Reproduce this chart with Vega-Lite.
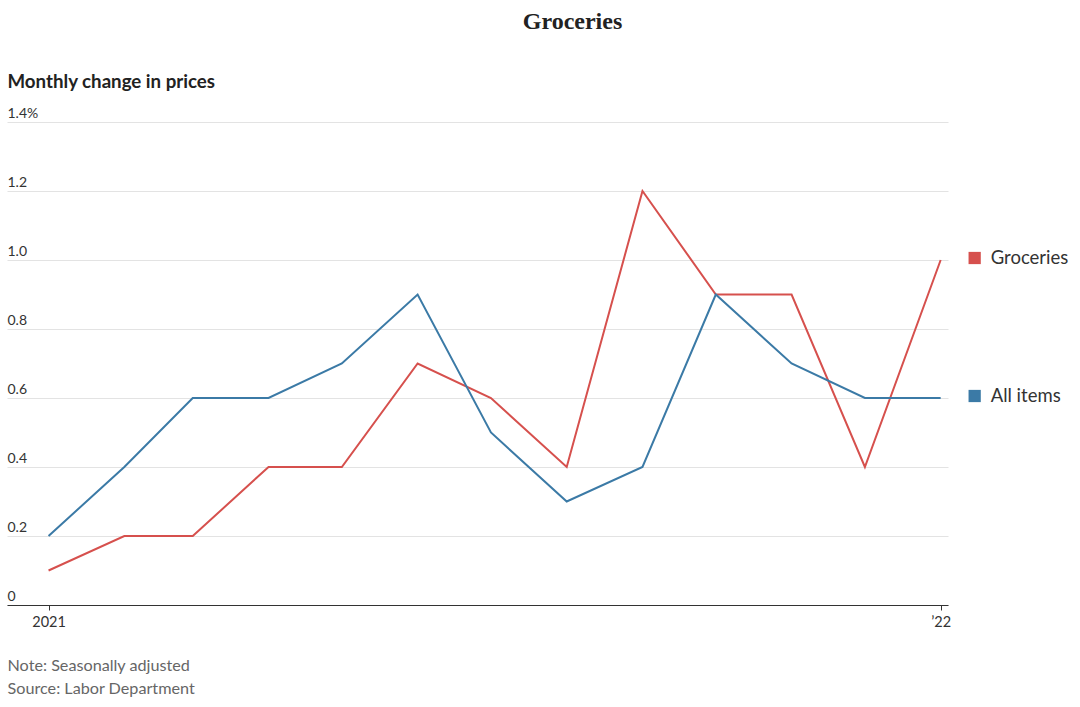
{
  "$schema": "https://vega.github.io/schema/vega-lite/v6.json",
  "autosize": {"type": "none"},
  "width": 941,
  "height": 483,
  "padding": {"left": 7, "top": 122, "right": 132, "bottom": 102},
  "background": "white",
  "title": {"text": "Groceries", "anchor": "middle", "frame": "group", "dx": 95, "offset": 38, "font": "Liberation Serif", "fontSize": 24, "fontWeight": "bold", "color": "#222"},
  "data": {
    "values": [
      {"date": "2021-01-01", "series": "Groceries", "value": 0.1},
      {"date": "2021-02-01", "series": "Groceries", "value": 0.2},
      {"date": "2021-03-01", "series": "Groceries", "value": 0.2},
      {"date": "2021-04-01", "series": "Groceries", "value": 0.4},
      {"date": "2021-05-01", "series": "Groceries", "value": 0.4},
      {"date": "2021-06-01", "series": "Groceries", "value": 0.7},
      {"date": "2021-07-01", "series": "Groceries", "value": 0.6},
      {"date": "2021-08-01", "series": "Groceries", "value": 0.4},
      {"date": "2021-09-01", "series": "Groceries", "value": 1.2},
      {"date": "2021-10-01", "series": "Groceries", "value": 0.9},
      {"date": "2021-11-01", "series": "Groceries", "value": 0.9},
      {"date": "2021-12-01", "series": "Groceries", "value": 0.4},
      {"date": "2022-01-01", "series": "Groceries", "value": 1.0},
      {"date": "2021-01-01", "series": "All items", "value": 0.2},
      {"date": "2021-02-01", "series": "All items", "value": 0.4},
      {"date": "2021-03-01", "series": "All items", "value": 0.6},
      {"date": "2021-04-01", "series": "All items", "value": 0.6},
      {"date": "2021-05-01", "series": "All items", "value": 0.7},
      {"date": "2021-06-01", "series": "All items", "value": 0.9},
      {"date": "2021-07-01", "series": "All items", "value": 0.5},
      {"date": "2021-08-01", "series": "All items", "value": 0.3},
      {"date": "2021-09-01", "series": "All items", "value": 0.4},
      {"date": "2021-10-01", "series": "All items", "value": 0.9},
      {"date": "2021-11-01", "series": "All items", "value": 0.7},
      {"date": "2021-12-01", "series": "All items", "value": 0.6},
      {"date": "2022-01-01", "series": "All items", "value": 0.6}
    ],
    "format": {"parse": {"date": "utc:'%Y-%m-%d'"}}
  },
  "encoding": {
    "x": {
      "field": "date", "type": "temporal",
      "scale": {"type": "utc", "domain": [{"year": 2020, "month": 12, "date": 15, "utc": true}, {"year": 2022, "month": 1, "date": 4, "utc": true}]},
      "axis": {
        "values": [{"year": 2021, "month": 1, "date": 1, "utc": true}, {"year": 2022, "month": 1, "date": 1, "utc": true}],
        "labelExpr": "utcyear(datum.value) == 2021 ? '2021' : '\u201922'",
        "grid": false, "domain": true, "domainColor": "#333", "domainWidth": 1,
        "ticks": true, "tickSize": 5, "tickColor": "#333",
        "labelFont": "Lato", "labelFontSize": 14.5, "labelColor": "#333", "labelPadding": 5,
        "title": ["Note: Seasonally adjusted", "Source: Labor Department"],
        "titleAnchor": "start", "titleAlign": "left", "titleX": 0, "titleY": 65, "titleBaseline": "alphabetic",
        "titleFont": "Lato", "titleFontSize": 16.2, "titleFontWeight": "normal", "titleColor": "#666", "titleLineHeight": 23
      }
    },
    "y": {
      "field": "value", "type": "quantitative",
      "scale": {"domain": [0, 1.4]},
      "axis": {
        "values": [0, 0.2, 0.4, 0.6, 0.8, 1.0, 1.2, 1.4],
        "labelExpr": "datum.value == 1.4 ? '1.4%' : datum.value == 0 ? '0' : format(datum.value, '.1f')",
        "grid": true, "gridColor": "#e3e3e3", "gridWidth": 1,
        "domain": false, "ticks": false,
        "labelAlign": "left", "labelBaseline": "bottom", "labelPadding": 0, "labelOffset": -2,
        "labelFont": "Lato", "labelFontSize": 14, "labelColor": "#333",
        "title": "Monthly change in prices", "titleAngle": 0, "titleAlign": "left", "titleAnchor": "start",
        "titleX": 0, "titleY": -35, "titleBaseline": "alphabetic",
        "titleFont": "Lato", "titleFontSize": 18.7, "titleFontWeight": "bold", "titleColor": "#222"
      }
    },
    "color": {
      "field": "series", "type": "nominal", "legend": null,
      "scale": {"domain": ["Groceries", "All items"], "range": ["#d6504d", "#3b7aa6"]}
    }
  },
  "layer": [
    {"mark": {"type": "line", "strokeWidth": 2}},
    {
      "transform": [{"filter": "utcyear(datum.date) == 2022"}],
      "mark": {"type": "point", "shape": "square", "filled": true, "opacity": 1, "size": 150, "xOffset": 34, "yOffset": -2}
    },
    {
      "transform": [{"filter": "utcyear(datum.date) == 2022"}],
      "mark": {"type": "text", "align": "left", "baseline": "middle", "dx": 50, "dy": -2, "font": "Lato", "fontSize": 18.5, "color": "#333"},
      "encoding": {"text": {"field": "series"}, "color": {"value": "#333"}}
    }
  ],
  "config": {"view": {"stroke": null}}
}
